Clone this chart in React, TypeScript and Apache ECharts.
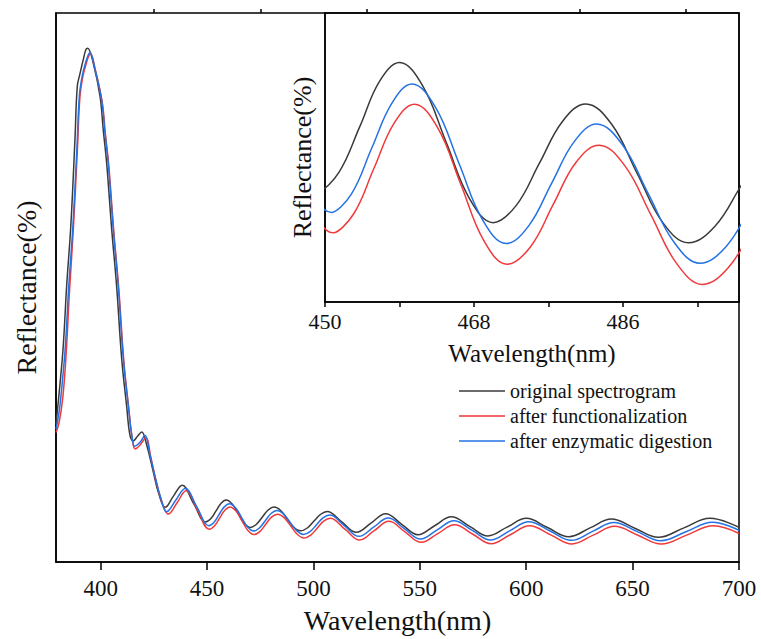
import React, { useEffect, useRef } from 'react';
import * as echarts from 'echarts';

// [wavelength (nm), reflectance (arbitrary units)]
const ORIGINAL: [number, number][] = [
  [379, 25.1], [380.8, 32.1], [382.4, 39.3], [384.0, 50.2], [386.0, 61.5], [387.9, 76.9],
  [389.0, 86.6], [390.3, 89.0], [391.8, 91.5], [393.1, 93.4], [393.9, 93.6], [396.5, 90.9],
  [399.7, 84.8], [401.2, 78.7], [402.8, 72.7], [405.2, 60.5], [407.5, 50.2], [409.9, 36.9],
  [412.2, 28.4], [413.8, 23.0], [415.3, 22.05], [417.3, 22.9], [419.3, 23.7], [421.5, 21.5],
  [424.8, 16.3], [427.1, 12.7], [430.3, 9.95], [434.2, 12.0], [438.3, 14.0], [443.7, 10.65],
  [449.3, 7.3], [451.7, 7.88], [454.2, 9.3], [456.6, 10.72], [459.0, 11.3], [461.8, 10.57],
  [464.65, 8.8], [467.5, 7.03], [470.3, 6.3], [473.1, 6.84], [475.9, 8.16], [478.7, 9.47],
  [481.5, 10.01], [484.6, 9.38], [487.7, 7.84], [490.8, 6.3], [493.9, 5.67], [497.1, 6.19],
  [500.25, 7.45], [503.4, 8.7], [506.4, 9.22], [513.3, 7.31], [520.2, 5.4], [527.05, 7.09],
  [533.9, 8.78], [541.5, 6.87], [549.1, 4.96], [556.95, 6.6], [564.8, 8.24], [573.4, 6.5],
  [582, 4.75], [591, 6.35], [600, 7.95], [610, 6.28], [620, 4.6], [630, 6.21], [640, 7.82],
  [651, 6.16], [662, 4.49], [674.15, 6.22], [686.3, 7.95], [700, 6.3],
];

const FUNCTIONALIZED: [number, number][] = [
  [379, 23.6], [380.5, 25.5], [382.2, 30.0], [383.7, 37.5], [385.3, 49.0], [387.2, 61.0],
  [389.1, 75.5], [390.2, 84.5], [391.5, 88.2], [393.0, 90.5], [394.2, 92.0], [395.2, 92.6],
  [397.4, 89.8], [400.7, 83.8], [402.2, 78.0], [403.8, 72.2], [406.2, 60.0], [408.5, 49.8],
  [410.9, 36.5], [413.2, 28.0], [414.8, 22.5], [416.2, 20.6], [418.7, 21.4], [421.3, 22.7],
  [423.5, 19.2], [426.0, 14.8], [428.5, 11.3], [431.8, 8.73], [436.0, 10.85], [440.1, 12.96],
  [445.5, 9.47], [451.0, 5.98], [453.45, 6.57], [455.9, 7.99], [458.35, 9.41], [460.8, 10.0],
  [463.6, 9.27], [466.4, 7.5], [469.2, 5.73], [472.0, 5.0], [474.8, 5.54], [477.55, 6.86],
  [480.3, 8.18], [483.1, 8.72], [486.2, 8.08], [489.35, 6.55], [492.5, 5.01], [495.6, 4.37],
  [498.7, 4.89], [501.75, 6.16], [504.8, 7.43], [507.9, 7.95], [514.8, 5.98], [521.7, 4.0],
  [528.55, 5.7], [535.4, 7.4], [543.0, 5.49], [550.6, 3.58], [558.45, 5.18], [566.3, 6.78],
  [574.9, 5.06], [583.5, 3.33], [592.5, 4.97], [601.5, 6.6], [611.5, 4.95], [621.5, 3.3],
  [631.5, 4.9], [641.5, 6.49], [652.5, 4.88], [663.5, 3.27], [675.65, 4.94], [687.8, 6.6],
  [700, 5.2],
];

const DIGESTED: [number, number][] = [
  [379, 24.2], [380.5, 27.5], [381.8, 32.1], [383.4, 39.3], [385.0, 50.2], [387.0, 61.5],
  [388.9, 76.0], [390.0, 85.0], [391.3, 88.5], [392.8, 90.8], [394.0, 92.2], [395.0, 92.8],
  [397.2, 90.0], [400.5, 84.0], [402.0, 78.2], [403.6, 72.4], [406.0, 60.3], [408.3, 50.0],
  [410.7, 36.8], [413.0, 28.4], [414.6, 23.2], [416.0, 21.1], [418.5, 21.8], [420.8, 23.1],
  [423.0, 19.8], [425.6, 15.5], [428.0, 12.0], [431.0, 9.15], [435.35, 11.3], [439.7, 13.4],
  [445.25, 10.0], [450.8, 6.62], [453.2, 7.2], [455.65, 8.63], [458.1, 10.04], [460.5, 10.63],
  [463.35, 9.9], [466.2, 8.14], [469.05, 6.38], [471.9, 5.65], [474.6, 6.2], [477.35, 7.52],
  [480.1, 8.83], [482.8, 9.38], [485.9, 8.74], [489.05, 7.2], [492.2, 5.67], [495.3, 5.03],
  [498.4, 5.54], [501.45, 6.79], [504.5, 8.04], [507.6, 8.55], [514.5, 6.61], [521.4, 4.67],
  [528.25, 6.34], [535.1, 8.0], [542.7, 6.09], [550.3, 4.18], [558.15, 5.84], [566, 7.5],
  [574.6, 5.75], [583.2, 4.0], [592.2, 5.67], [601.2, 7.33], [611.2, 5.64], [621.2, 3.95],
  [631.2, 5.58], [641.2, 7.2], [652.2, 5.54], [663.2, 3.87], [675.35, 5.56], [687.5, 7.25],
  [700, 5.75],
];

const SERIES_NAMES = ['original spectrogram', 'after functionalization', 'after enzymatic digestion'];
const SERIES_COLORS = ['#3a3a3a', '#f0393b', '#2472e4'];

const MAIN_X_LABELS = [400, 450, 500, 550, 600, 650, 700];
const MAIN_X_MINOR = [425, 475, 525, 575, 625, 675];
const INSET_X_LABELS = [450, 468, 486];
const INSET_X_TICKS = [450, 459, 468, 477, 486, 495];

const X_NAME = 'Wavelength(nm)';
const Y_NAME = 'Reflectance(%)';

export default function App() {
  const ref = useRef<HTMLDivElement>(null);

  useEffect(() => {
    if (!ref.current) return;
    const chart = echarts.init(ref.current, null, { renderer: 'svg' });
    const font = '"Liberation Serif", "Times New Roman", serif';
    const datasets = [ORIGINAL, FUNCTIONALIZED, DIGESTED];
    const axisLineStyle = { color: '#000', width: 1.5 };

    const makeSeries = (i: number, xi: number, yi: number) => ({
      type: 'line',
      name: SERIES_NAMES[i],
      xAxisIndex: xi,
      yAxisIndex: yi,
      data: datasets[i],
      symbol: 'none',
      showSymbol: false,
      smooth: 0.4,
      lineStyle: { color: SERIES_COLORS[i], width: 1.5 },
      itemStyle: { color: SERIES_COLORS[i] },
      z: 3 + i,
    });

    chart.setOption({
      animation: false,
      backgroundColor: '#fff',
      textStyle: { fontFamily: font },
      grid: [
        { left: 56, top: 13, width: 683, height: 550, show: true, borderColor: '#000', borderWidth: 1.5, backgroundColor: 'transparent' },
        { left: 325, top: 13, width: 414, height: 289, show: true, borderColor: '#000', borderWidth: 1.5, backgroundColor: 'transparent' },
      ],
      legend: {
        orient: 'vertical',
        left: 459,
        top: 381,
        padding: 0,
        icon: 'rect',
        itemWidth: 46,
        itemHeight: 1.5,
        itemGap: 5,
        data: SERIES_NAMES,
        textStyle: { fontSize: 20, fontFamily: font, color: '#111', lineHeight: 20 },
      },
      xAxis: [
        {
          type: 'value', gridIndex: 0, min: 379, max: 700,
          name: X_NAME, nameLocation: 'middle', nameGap: 44,
          nameTextStyle: { fontSize: 28, color: '#111', fontFamily: font },
          axisLine: { show: true, lineStyle: axisLineStyle },
          axisTick: { show: true, customValues: MAIN_X_LABELS, length: 8, lineStyle: axisLineStyle },
          axisLabel: { show: true, customValues: MAIN_X_LABELS, fontSize: 23, color: '#111', margin: 15, fontFamily: font },
          splitLine: { show: false },
        },
        {
          type: 'value', gridIndex: 0, min: 379, max: 700,
          axisLine: { show: false },
          axisTick: { show: true, customValues: MAIN_X_MINOR, length: 4, lineStyle: axisLineStyle },
          axisLabel: { show: false },
          splitLine: { show: false },
        },
        {
          type: 'value', gridIndex: 1, min: 450, max: 500,
          name: X_NAME, nameLocation: 'middle', nameGap: 39,
          nameTextStyle: { fontSize: 25, color: '#111', fontFamily: font },
          axisLine: { show: true, lineStyle: axisLineStyle },
          axisTick: { show: true, customValues: INSET_X_TICKS, length: 5, lineStyle: axisLineStyle },
          axisLabel: { show: true, customValues: INSET_X_LABELS, fontSize: 22, color: '#111', margin: 8, fontFamily: font },
          splitLine: { show: false },
        },
      ],
      yAxis: [
        {
          type: 'value', gridIndex: 0, min: 0, max: 100,
          name: Y_NAME, nameLocation: 'middle', nameGap: 16, nameRotate: 90,
          nameTextStyle: { fontSize: 28, color: '#111', fontFamily: font },
          axisLine: { show: true, lineStyle: axisLineStyle },
          axisTick: { show: false }, axisLabel: { show: false }, splitLine: { show: false },
        },
        {
          type: 'value', gridIndex: 1, min: 3.82, max: 12.85,
          name: Y_NAME, nameLocation: 'middle', nameGap: 10, nameRotate: 90,
          nameTextStyle: { fontSize: 26, color: '#111', fontFamily: font },
          axisLine: { show: true, lineStyle: axisLineStyle },
          axisTick: { show: false }, axisLabel: { show: false }, splitLine: { show: false },
        },
      ],
      series: [
        makeSeries(0, 0, 0), makeSeries(1, 0, 0), makeSeries(2, 0, 0),
        makeSeries(0, 2, 1), makeSeries(1, 2, 1), makeSeries(2, 2, 1),
      ],
    });

    return () => chart.dispose();
  }, []);

  return (
    <div
      ref={ref}
      style={{ position: 'fixed', left: 0, top: 0, width: 761, height: 639, background: '#fff' }}
    />
  );
}
